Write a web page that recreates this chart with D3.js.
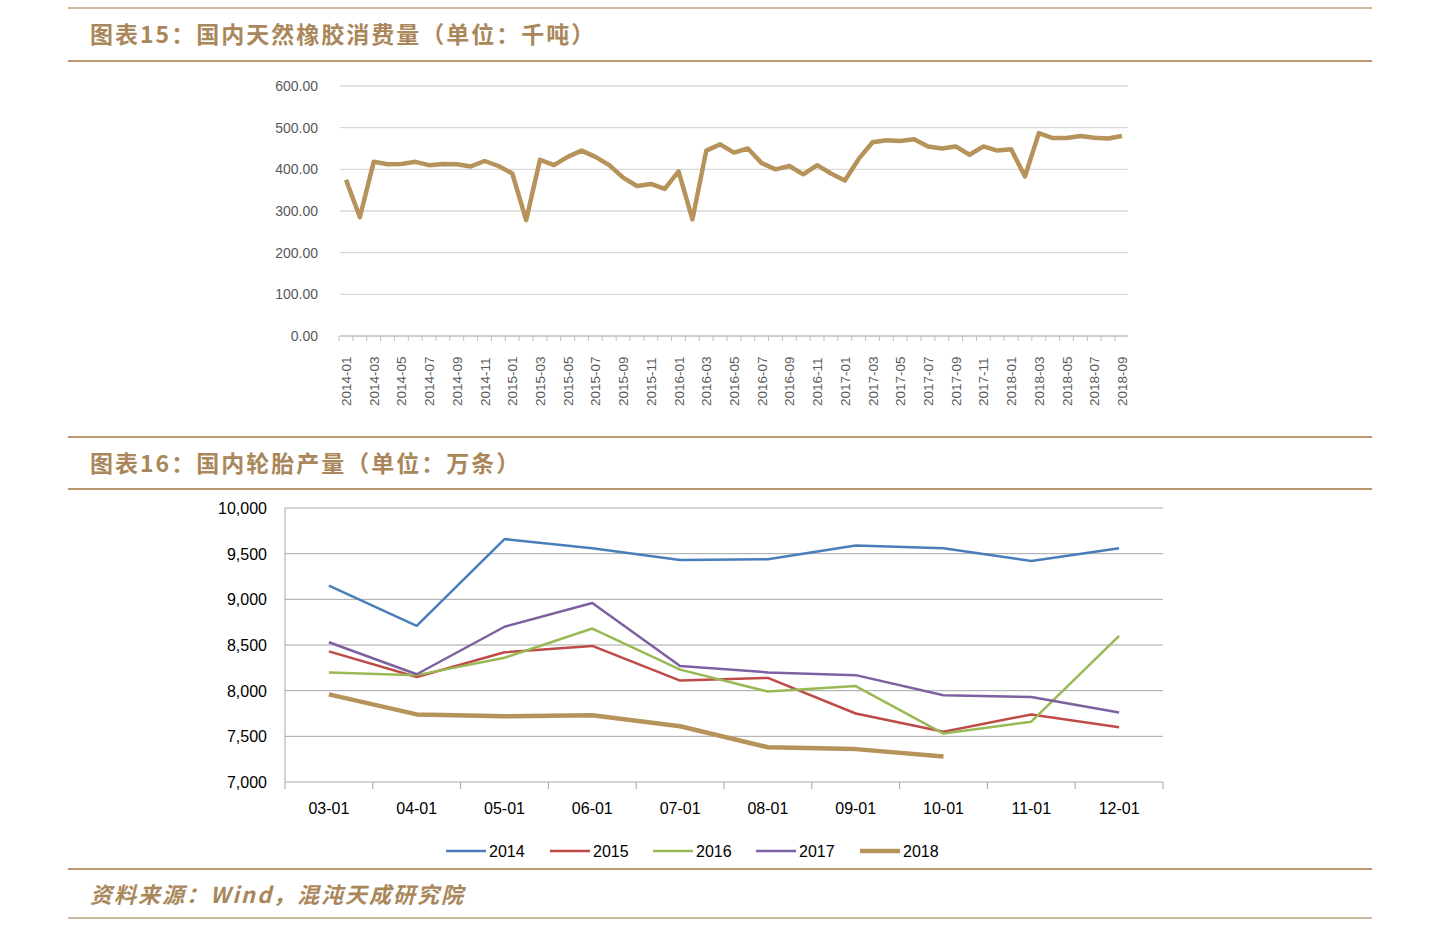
<!DOCTYPE html>
<html><head><meta charset="utf-8">
<script src="https://cdn.jsdelivr.net/npm/d3@7"></script>
<style>
body{margin:0;background:#fff;}
text{font-family:"Liberation Sans","Noto Sans CJK SC",sans-serif;}
</style></head>
<body><svg id="c" width="1440" height="928"></svg>
<script>
const rubberMonths = [];
for (let y = 2014; y <= 2018; y++) for (let m = 1; m <= 12; m++) {
    if (y === 2018 && m > 9) break;
    rubberMonths.push(`${y}-${String(m).padStart(2, '0')}`);
}
const rubberValues = [
    375, 285, 418, 412, 413, 418, 410, 413, 412, 407, 420, 408,
    390, 278, 423, 410, 430, 445, 430, 410, 380, 360, 365, 353,
    395, 280, 445, 460, 440, 450, 415, 400, 408, 388, 410, 390,
    373, 425, 465, 470, 468, 472, 455, 450, 455, 435, 455, 445,
    448, 383, 487, 475, 475, 480, 476, 474, 480
];
const tireMonths = ['03-01', '04-01', '05-01', '06-01', '07-01', '08-01', '09-01', '10-01', '11-01', '12-01'];
const tireYears = ['2014', '2015', '2016', '2017', '2018'];
const tire2014 = [9150, 8710, 9660, 9560, 9430, 9440, 9590, 9560, 9420, 9560];
const tire2015 = [8430, 8150, 8420, 8490, 8110, 8140, 7750, 7550, 7740, 7600];
const tire2016 = [8200, 8170, 8360, 8680, 8230, 7990, 8050, 7530, 7660, 8600];
const tire2017 = [8530, 8180, 8700, 8960, 8270, 8200, 8170, 7950, 7930, 7760];
const tire2018 = [7960, 7740, 7720, 7730, 7610, 7380, 7360, 7280];
const tireSeries = [tire2014, tire2015, tire2016, tire2017, tire2018];
const tireColors = ['#4a7ebb', '#be4b48', '#98b954', '#7d60a0', '#b5935a'];

const BROWN = '#a0743f';
const svg = d3.select('#c');

// header / footer rules
[[8, 1], [61, 1.5], [437, 1.5], [489, 1.5], [869, 1.5], [918, 1]].forEach(([y, w]) => {
    svg.append('line').attr('x1', 68).attr('x2', 1372).attr('y1', y).attr('y2', y)
        .attr('stroke', BROWN).attr('stroke-width', w);
});
const titleStyle = t => t.attr('fill', '#a9875a').attr('font-size', 23).attr('font-weight', 'bold')
    .style('font-family', '"Noto Sans CJK SC",sans-serif').attr('letter-spacing', 2);
svg.append('text').attr('x', 90).attr('y', 43).text('图表15：国内天然橡胶消费量（单位：千吨）').call(titleStyle);
svg.append('text').attr('x', 90).attr('y', 472).text('图表16：国内轮胎产量（单位：万条）').call(titleStyle);
svg.append('text').attr('x', 90).attr('y', 903).text('资料来源：Wind，混沌天成研究院').call(titleStyle)
    .attr('font-style', 'italic').attr('font-size', 22);

// top chart
const x1 = d3.scalePoint().domain(rubberMonths).range([346, 1122]);
const y1 = d3.scaleLinear().domain([0, 600]).range([336, 86]);
const g1 = svg.append('g');
g1.selectAll('.grid').data(y1.ticks(6)).enter().append('line')
    .attr('x1', 340).attr('x2', 1128).attr('y1', d => y1(d)).attr('y2', d => y1(d))
    .attr('stroke', d => d === 0 ? '#bfbfbf' : '#d9d9d9').attr('stroke-width', 1.3);
g1.selectAll('.yl').data(y1.ticks(6)).enter().append('text')
    .attr('x', 318).attr('y', d => y1(d) + 5).attr('text-anchor', 'end')
    .attr('font-size', 14).attr('fill', '#595959').text(d => d.toFixed(2));
rubberMonths.forEach((m, i) => {
    g1.append('line').attr('x1', x1(m) - 7).attr('x2', x1(m) - 7).attr('y1', 336).attr('y2', 341).attr('stroke', '#bfbfbf');
    if (i % 2 === 0) {
        g1.append('text').attr('transform', `translate(${x1(m) + 5},406) rotate(-90)`)
            .attr('font-size', 13.5).attr('fill', '#595959').text(m);
    }
});
g1.append('path').datum(rubberValues)
    .attr('d', d3.line().x((d, i) => x1(rubberMonths[i])).y(d => y1(d)))
    .attr('fill', 'none').attr('stroke', '#b5935a').attr('stroke-width', 4.5).attr('stroke-linejoin', 'round');

// bottom chart
const x2 = d3.scalePoint().domain(tireMonths).range([285, 1163]).padding(0.5);
const y2 = d3.scaleLinear().domain([7000, 10000]).range([782, 508]);
const g2 = svg.append('g');
g2.selectAll('.grid').data(y2.ticks(6)).enter().append('line')
    .attr('x1', 285).attr('x2', 1163).attr('y1', d => y2(d)).attr('y2', d => y2(d))
    .attr('stroke', '#a6a6a6').attr('stroke-width', 1);
g2.append('line').attr('x1', 285).attr('x2', 285).attr('y1', 508).attr('y2', 782).attr('stroke', '#a6a6a6');
g2.selectAll('.yl').data(y2.ticks(6)).enter().append('text')
    .attr('x', 267).attr('y', d => y2(d) + 6).attr('text-anchor', 'end')
    .attr('font-size', 16).attr('fill', '#000').text(d3.format(','));
const step = x2.step();
d3.range(tireMonths.length + 1).forEach(i => {
    const xx = 285 + i * step;
    g2.append('line').attr('x1', xx).attr('x2', xx).attr('y1', 782).attr('y2', 789).attr('stroke', '#a6a6a6');
});
g2.selectAll('.xl').data(tireMonths).enter().append('text')
    .attr('x', d => x2(d)).attr('y', 814).attr('text-anchor', 'middle')
    .attr('font-size', 16).attr('fill', '#000').text(d => d);
tireSeries.forEach((s, k) => {
    g2.append('path').datum(s)
        .attr('d', d3.line().x((d, i) => x2(tireMonths[i])).y(d => y2(d)))
        .attr('fill', 'none').attr('stroke', tireColors[k]).attr('stroke-width', k === 4 ? 4.5 : 2.5)
        .attr('stroke-linejoin', 'round');
});
// legend
const legX = [446, 550, 653, 756, 860];
tireYears.forEach((yr, k) => {
    g2.append('line').attr('x1', legX[k]).attr('x2', legX[k] + 40).attr('y1', 851).attr('y2', 851)
        .attr('stroke', tireColors[k]).attr('stroke-width', k === 4 ? 4.5 : 2.5);
    g2.append('text').attr('x', legX[k] + 43).attr('y', 857).attr('font-size', 16).text(yr);
});
</script></body></html>
